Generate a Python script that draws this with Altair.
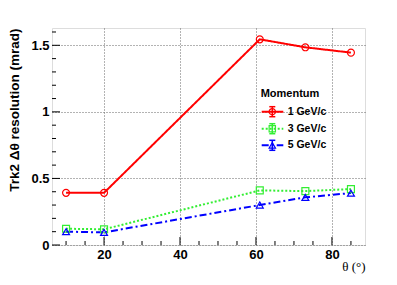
import altair as alt
import pandas as pd

# ---- data ----
theta = [10, 20, 61, 73, 85]
res_1gev = [0.392, 0.392, 1.545, 1.485, 1.445]
res_3gev = [0.122, 0.118, 0.410, 0.405, 0.420]
res_5gev = [0.100, 0.095, 0.300, 0.358, 0.390]
series_labels = ["1 GeV/c", "3 GeV/c", "5 GeV/c"]

x_major = [20, 40, 60, 80]
x_minor = [10, 15, 25, 30, 35, 45, 50, 55, 65, 70, 75, 85]
y_major = [0, 0.5, 1, 1.5]
y_minor = [0.1, 0.2, 0.3, 0.4, 0.6, 0.7, 0.8, 0.9, 1.1, 1.2, 1.3, 1.4, 1.6]

# ---- styles ----
colors = ["#ff0000", "#33ee33", "#0000ff"]
dashes = [[1, 0], [2, 2], [7, 3, 2, 3]]
shapes = ["circle", "square", "triangle-up"]
W, H = 313, 217
FONT = "Liberation Sans"

rows = []
for lab, vals in zip(series_labels, [res_1gev, res_3gev, res_5gev]):
    for t, v in zip(theta, vals):
        rows.append({"x": t, "y": v, "series": lab})
df = pd.DataFrame(rows)

xenc = alt.X(
    "x:Q",
    scale=alt.Scale(domain=[6.3, 88.7], nice=False, zero=False),
    axis=alt.Axis(
        values=x_major, format="d", grid=True, gridDash=[1, 2], gridColor="#666666",
        ticks=False, domain=False, labelFont=FONT, labelFontSize=13,
        labelFontWeight="bold", labelColor="black", labelPadding=3,
        title="θ (°)", titleFont="Liberation Serif", titleFontWeight="normal",
        titleFontSize=13, titleColor="black", titleX=W, titleY=21,
        titleAlign="right", titleBaseline="middle",
    ),
)
yenc = alt.Y(
    "y:Q",
    scale=alt.Scale(domain=[0, 1.63], nice=False),
    axis=alt.Axis(
        values=y_major, labelExpr="datum.value + ''", grid=True, gridDash=[1, 2],
        gridColor="#666666", ticks=False, domain=False, labelFont=FONT,
        labelFontSize=13, labelFontWeight="bold", labelColor="black", labelPadding=3,
        title="Trk2 Δθ resolution (mrad)", titleFont=FONT, titleFontWeight="bold",
        titleFontSize=13.5, titleColor="black", titleX=-38, titleY=0,
        titleAngle=270, titleAlign="right", titleBaseline="middle",
    ),
)

color = alt.Color("series:N", scale=alt.Scale(domain=series_labels, range=colors), legend=None)
dash = alt.StrokeDash("series:N", scale=alt.Scale(domain=series_labels, range=dashes), legend=None)
shape = alt.Shape("series:N", scale=alt.Scale(domain=series_labels, range=shapes), legend=None)

lines = alt.Chart(df).mark_line(strokeWidth=2).encode(x=xenc, y=yenc, color=color, strokeDash=dash)
points = alt.Chart(df).mark_point(filled=False, size=48, strokeWidth=1.2, opacity=1).encode(
    x=xenc, y=yenc, color=color, shape=shape
)

# inner ticks (ROOT style)
xt_major = alt.Chart(pd.DataFrame({"x": x_major})).mark_rule(color="black").encode(
    x=xenc, y=alt.value(H), y2=alt.value(H - 8))
xt_minor = alt.Chart(pd.DataFrame({"x": x_minor})).mark_rule(color="black").encode(
    x=xenc, y=alt.value(H), y2=alt.value(H - 4))
yt_major = alt.Chart(pd.DataFrame({"y": y_major})).mark_rule(color="black").encode(
    y=yenc, x=alt.value(0), x2=alt.value(8))
yt_minor = alt.Chart(pd.DataFrame({"y": y_minor})).mark_rule(color="black").encode(
    y=yenc, x=alt.value(0), x2=alt.value(4))

# manual legend
legend_layers = []
legend_layers.append(
    alt.Chart(pd.DataFrame({"t": ["Momentum"]})).mark_text(
        align="left", baseline="middle", font=FONT, fontSize=11, fontWeight="bold", color="black"
    ).encode(text="t:N", x=alt.value(208.7), y=alt.value(66.3))
)
ly = [83.7, 100.7, 117.3]
for lab, c, d, s, yy in zip(series_labels, colors, dashes, shapes, ly):
    one = pd.DataFrame({"t": [lab]})
    legend_layers.append(alt.Chart(one).mark_rule(color=c, strokeWidth=2, strokeDash=d).encode(
        x=alt.value(209.7), x2=alt.value(231.3), y=alt.value(yy)))
    legend_layers.append(alt.Chart(one).mark_rule(color=c, strokeWidth=1.5).encode(
        x=alt.value(220.3), y=alt.value(yy - 5), y2=alt.value(yy + 5)))
    for cy in (yy - 5, yy + 5):
        legend_layers.append(alt.Chart(one).mark_rule(color=c, strokeWidth=1.5).encode(
            x=alt.value(217.3), x2=alt.value(223.3), y=alt.value(cy)))
    legend_layers.append(alt.Chart(one).mark_point(shape=s, filled=False, size=40, color=c,
                                                   strokeWidth=1.2, opacity=1).encode(
        x=alt.value(220.3), y=alt.value(yy)))
    legend_layers.append(alt.Chart(one).mark_text(
        align="left", baseline="middle", font=FONT, fontSize=10.5, fontWeight="bold", color="black"
    ).encode(text="t:N", x=alt.value(235.7), y=alt.value(yy)))

chart = alt.layer(
    lines, points, xt_major, xt_minor, yt_major, yt_minor, *legend_layers
).properties(
    width=W, height=H,
    padding={"left": 44, "top": 20, "right": 24, "bottom": 32},
    autosize=alt.AutoSizeParams(type="none"),
).configure_view(stroke="black", strokeWidth=1).configure(background="white")

chart.save("out.html", embed_options={"renderer": "svg", "actions": False})
